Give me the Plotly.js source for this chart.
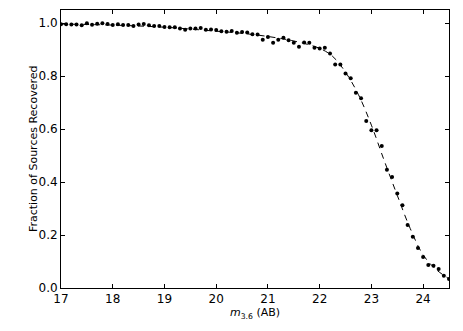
<!DOCTYPE html>
<html>
<head>
<meta charset="utf-8">
<script src="https://cdn.plot.ly/plotly-3.0.1.min.js"></script>
<style>
  body { margin: 0; background: #fff; }
  #myDiv { width: 463px; height: 331px; }
</style>
</head>
<body>
<div id="myDiv"></div>
<script>
var divId = "myDiv";

// measured completeness, 0.1 mag bins
var mag = [
  17.0, 17.1, 17.2, 17.3, 17.4, 17.5, 17.6, 17.7, 17.8, 17.9,
  18.0, 18.1, 18.2, 18.3, 18.4, 18.5, 18.6, 18.7, 18.8, 18.9,
  19.0, 19.1, 19.2, 19.3, 19.4, 19.5, 19.6, 19.7, 19.8, 19.9,
  20.0, 20.1, 20.2, 20.3, 20.4, 20.5, 20.6, 20.7, 20.8, 20.9,
  21.0, 21.1, 21.2, 21.3, 21.4, 21.5, 21.6, 21.7, 21.8, 21.9,
  22.0, 22.1, 22.2, 22.3, 22.4, 22.5, 22.6, 22.7, 22.8, 22.9,
  23.0, 23.1, 23.2, 23.3, 23.4, 23.5, 23.6, 23.7, 23.8, 23.9,
  24.0, 24.1, 24.2, 24.3, 24.4, 24.5
];
var fracRecovered = [
  0.996, 0.996, 0.995, 0.995, 0.992, 1.000, 0.994, 0.998, 1.000, 0.997,
  0.993, 0.996, 0.993, 0.993, 0.990, 0.995, 0.997, 0.992, 0.990, 0.990,
  0.986, 0.985, 0.985, 0.980, 0.975, 0.980, 0.980, 0.982, 0.975, 0.976,
  0.974, 0.970, 0.968, 0.971, 0.964, 0.967, 0.965, 0.958, 0.957, 0.938,
  0.948, 0.926, 0.938, 0.945, 0.936, 0.926, 0.911, 0.927, 0.926, 0.907,
  0.905, 0.907, 0.886, 0.844, 0.844, 0.810, 0.792, 0.737, 0.717, 0.631,
  0.596, 0.596, 0.536, 0.447, 0.419, 0.357, 0.313, 0.238, 0.194, 0.151,
  0.117, 0.087, 0.084, 0.072, 0.046, 0.034
];

// fitted curve (dashed)
var fitMag = [17.0, 18.0, 19.0, 20.0, 20.5, 21.0, 21.5, 22.0, 22.25, 22.5,
  22.75, 23.0, 23.25, 23.5, 23.75, 24.0, 24.25, 24.5];
var fitFrac = [0.997, 0.993, 0.985, 0.970, 0.962, 0.950, 0.933, 0.905, 0.875, 0.815,
  0.730, 0.615, 0.480, 0.350, 0.225, 0.125, 0.070, 0.035];

var xTicks = [17, 18, 19, 20, 21, 22, 23, 24];
var yTicks = [0.0, 0.2, 0.4, 0.6, 0.8, 1.0];

var data = [
  {
    x: fitMag,
    y: fitFrac,
    type: "scatter",
    mode: "lines",
    line: { color: "#000", width: 1, dash: "6px,5px", shape: "spline" },
    hoverinfo: "skip"
  },
  {
    x: mag,
    y: fracRecovered,
    type: "scatter",
    mode: "markers",
    marker: { color: "#000", size: 4 },
    cliponaxis: true
  }
];

var axisCommon = {
  showgrid: false,
  zeroline: false,
  showline: true,
  linecolor: "#000",
  linewidth: 1,
  mirror: "allticks",
  ticks: "inside",
  ticklen: 4,
  tickcolor: "#000",
  tickfont: { family: "DejaVu Sans", size: 12, color: "#000" }
};

var layouts = {
  width: 463,
  height: 331,
  showlegend: false,
  plot_bgcolor: "#fff",
  paper_bgcolor: "#fff",
  margin: { l: 61, r: 14, t: 10, b: 43, pad: 0 },
  xaxis: Object.assign({}, axisCommon, {
    range: [17, 24.5],
    tickvals: xTicks,
    ticktext: xTicks.map(String),
    title: {
      text: "<i>m</i><sub>3.6</sub> (AB)",
      font: { family: "DejaVu Sans", size: 11, color: "#000" },
      standoff: 0
    }
  }),
  yaxis: Object.assign({}, axisCommon, {
    range: [0, 1.05],
    tickvals: yTicks,
    ticktext: yTicks.map(function (v) { return v.toFixed(1); })
  }),
  annotations: [
    {
      text: "Fraction of Sources Recovered",
      xref: "paper",
      yref: "paper",
      x: -0.072,
      y: 0.5,
      xanchor: "center",
      yanchor: "middle",
      textangle: -90,
      showarrow: false,
      font: { family: "DejaVu Sans", size: 11, color: "#000" }
    }
  ]
};

var display = {
  displayModeBar: false,
  staticPlot: true
};

Plotly.newPlot(divId, data, layouts, display);
</script>
</body>
</html>
